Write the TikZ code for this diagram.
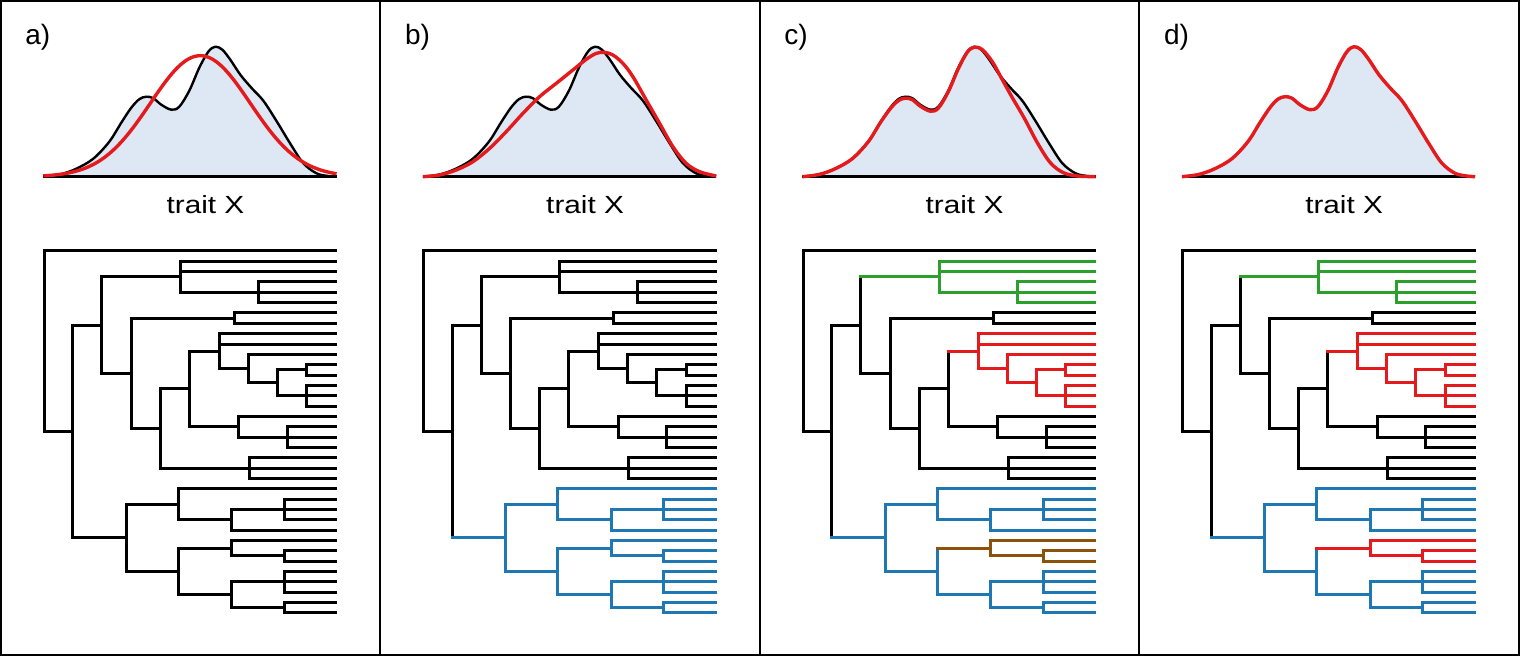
\documentclass[tikz,border=0pt]{standalone}
\usepackage{fontspec}
\setmainfont{Liberation Sans}
\usetikzlibrary{calc}
\definecolor{tgreen}{HTML}{2CA02C}
\definecolor{tred}{HTML}{E41A1C}
\definecolor{tblue}{HTML}{1F77B4}
\definecolor{tbrown}{HTML}{8C510A}
\definecolor{fillblue}{HTML}{DDE8F4}
\tikzset{
  branch/.style={line width=1.5pt, line cap=rect},
  panelframe/.style={line width=1pt, draw=black},
  densfill/.style={fill=fillblue},
  axisline/.style={line width=1.3pt, draw=black},
  kdeline/.style={line width=1.2pt, draw=black, line join=round},
  fitline/.style={line width=1.7pt, draw=tred, line join=round},
  panellabel/.style={anchor=base west, inner sep=0pt, font=\fontsize{14}{16}\selectfont},
  traitlabel/.style={anchor=base, inner sep=0pt, font=\fontsize{12.4}{14}\selectfont},
}
\newcommand\ty[1]{251+10.334*#1}
\newcommand\ed[4]{\draw[branch,#3] (#1) -- (#1 |- #2); \draw[branch,#4] (#1 |- #2) -- (#2);}
\newcommand\kdecurve{plot[smooth,tension=0.55] coordinates {(0,0) (17,2.3) (33,8) (50,18) (66,35) (78,54) (88,69) (96,77.5) (103,80) (110,78.5) (118,72) (128,67) (136,70) (146,86) (156,109) (165,125) (172,130) (179,127) (187,117) (197,102) (208,89) (220,76) (233,56) (247,33) (260,13.5) (273,3.5) (284,0.8) (293.3,0)}}
\newcommand\phylotree[6]{%
\begin{scope}[shift={(#1,0)}]
\foreach \i in {0,...,35}{\coordinate (#2t\i) at (335.8,{251+10.334*\i});}
\coordinate (#2root) at (44,\ty{8.7295});
\coordinate (#2A) at (72.7,\ty{17.459});
\coordinate (#2B) at (101.7,\ty{7.168});
\coordinate (#2C) at (180,\ty{2.5});
\coordinate (#2D) at (258.3,\ty{4});
\coordinate (#2E) at (131,\ty{11.836});
\coordinate (#2F) at (234,\ty{6.5});
\coordinate (#2G) at (160,\ty{17.172});
\coordinate (#2H) at (189.3,\ty{13.344});
\coordinate (#2I) at (219.3,\ty{9.6875});
\coordinate (#2J) at (248.3,\ty{11.375});
\coordinate (#2K) at (277.3,\ty{12.75});
\coordinate (#2L) at (306.7,\ty{11.5});
\coordinate (#2M) at (306.7,\ty{14});
\coordinate (#2N) at (238.7,\ty{17});
\coordinate (#2O) at (287.3,\ty{18});
\coordinate (#2P) at (249,\ty{21});
\coordinate (#2Q) at (126,\ty{27.75});
\coordinate (#2R) at (178.3,\ty{24.5});
\coordinate (#2S) at (231.7,\ty{26});
\coordinate (#2T) at (284,\ty{25});
\coordinate (#2U) at (178.3,\ty{31});
\coordinate (#2V) at (231.7,\ty{28.75});
\coordinate (#2W) at (284,\ty{29.5});
\coordinate (#2X) at (231.7,\ty{33.25});
\coordinate (#2Y) at (284,\ty{32});
\coordinate (#2Z) at (284,\ty{34.5});
\ed{#2root}{#2t0}{black}{black}
\ed{#2root}{#2A}{black}{black}
\ed{#2A}{#2B}{black}{black}
\ed{#2A}{#2Q}{black}{#5}
\ed{#2B}{#2C}{black}{#3}
\ed{#2B}{#2E}{black}{black}
\ed{#2C}{#2t1}{#3}{#3}
\ed{#2C}{#2t2}{#3}{#3}
\ed{#2C}{#2D}{#3}{#3}
\ed{#2D}{#2t3}{#3}{#3}
\ed{#2D}{#2t4}{#3}{#3}
\ed{#2D}{#2t5}{#3}{#3}
\ed{#2E}{#2F}{black}{black}
\ed{#2E}{#2G}{black}{black}
\ed{#2F}{#2t6}{black}{black}
\ed{#2F}{#2t7}{black}{black}
\ed{#2G}{#2H}{black}{black}
\ed{#2G}{#2P}{black}{black}
\ed{#2H}{#2I}{black}{#4}
\ed{#2H}{#2N}{black}{black}
\ed{#2I}{#2t8}{#4}{#4}
\ed{#2I}{#2t9}{#4}{#4}
\ed{#2I}{#2J}{#4}{#4}
\ed{#2J}{#2t10}{#4}{#4}
\ed{#2J}{#2K}{#4}{#4}
\ed{#2K}{#2L}{#4}{#4}
\ed{#2K}{#2M}{#4}{#4}
\ed{#2L}{#2t11}{#4}{#4}
\ed{#2L}{#2t12}{#4}{#4}
\ed{#2M}{#2t13}{#4}{#4}
\ed{#2M}{#2t14}{#4}{#4}
\ed{#2M}{#2t15}{#4}{#4}
\ed{#2N}{#2t16}{black}{black}
\ed{#2N}{#2O}{black}{black}
\ed{#2O}{#2t17}{black}{black}
\ed{#2O}{#2t18}{black}{black}
\ed{#2O}{#2t19}{black}{black}
\ed{#2P}{#2t20}{black}{black}
\ed{#2P}{#2t21}{black}{black}
\ed{#2P}{#2t22}{black}{black}
\ed{#2Q}{#2R}{#5}{#5}
\ed{#2Q}{#2U}{#5}{#5}
\ed{#2R}{#2t23}{#5}{#5}
\ed{#2R}{#2S}{#5}{#5}
\ed{#2S}{#2T}{#5}{#5}
\ed{#2S}{#2t27}{#5}{#5}
\ed{#2T}{#2t24}{#5}{#5}
\ed{#2T}{#2t25}{#5}{#5}
\ed{#2T}{#2t26}{#5}{#5}
\ed{#2U}{#2V}{#5}{#6}
\ed{#2U}{#2X}{#5}{#5}
\ed{#2V}{#2t28}{#6}{#6}
\ed{#2V}{#2W}{#6}{#6}
\ed{#2W}{#2t29}{#6}{#6}
\ed{#2W}{#2t30}{#6}{#6}
\ed{#2X}{#2Y}{#5}{#5}
\ed{#2X}{#2Z}{#5}{#5}
\ed{#2Y}{#2t31}{#5}{#5}
\ed{#2Y}{#2t32}{#5}{#5}
\ed{#2Y}{#2t33}{#5}{#5}
\ed{#2Z}{#2t34}{#5}{#5}
\ed{#2Z}{#2t35}{#5}{#5}
\end{scope}}
\begin{document}
\begin{tikzpicture}[x=0.5pt,y=-0.5pt]
\useasboundingbox (0,0) rectangle (1520,656);
% panel frames
\draw[panelframe] (1,1) rectangle (1519,655);
\draw[panelframe] (380,1) -- (380,655);
\draw[panelframe] (760,1) -- (760,655);
\draw[panelframe] (1139,1) -- (1139,655);
% labels
\node[panellabel] (la) at (25,44.3) {a)};
\node[panellabel] (lb) at (404.6,44.3) {b)};
\node[panellabel] (lc) at (784,44.3) {c)};
\node[panellabel] (ld) at (1163.6,44.3) {d)};
\node[traitlabel] (ta) at (205.5,213.3) {\scalebox{1.2}[1]{trait X}};
\node[traitlabel] (tb) at (585.1,213.3) {\scalebox{1.2}[1]{trait X}};
\node[traitlabel] (tc) at (964.5,213.3) {\scalebox{1.2}[1]{trait X}};
\node[traitlabel] (td) at (1344.1,213.3) {\scalebox{1.2}[1]{trait X}};
% panel a density
\begin{scope}[shift={(43.3,176.7)},yscale=-1]
\fill[densfill] \kdecurve -- cycle;
\draw[axisline] (0,0) -- (293.3,0);
\draw[kdeline] \kdecurve;
\draw[fitline] plot[domain=0:293.3,samples=150,smooth] (\x,{121*exp(-0.5*((\x-157)/50)^2)});
\end{scope}
% panel b density
\begin{scope}[shift={(422.9,176.7)},yscale=-1]
\fill[densfill] \kdecurve -- cycle;
\draw[axisline] (0,0) -- (293.3,0);
\draw[kdeline] \kdecurve;
\draw[fitline] plot[smooth,tension=0.55] coordinates {(0,0) (16.7,1.7) (33.3,6.7) (50,15) (66.7,28.3) (83.3,45) (100,63.3) (116.7,80) (133.3,93.3) (150,106.7) (163.3,117.3) (173.3,123.3) (181.7,124.3) (190,121.7) (200,113.3) (210,100) (223.3,76.7) (236.7,53.3) (250,30) (263.3,13.3) (276.7,5) (293.3,0.7)};
\end{scope}
% panel c density
\begin{scope}[shift={(802.3,176.7)},yscale=-1]
\fill[densfill] \kdecurve -- cycle;
\draw[axisline] (0,0) -- (293.3,0);
\draw[kdeline] \kdecurve;
\draw[fitline] plot[smooth,tension=0.55] coordinates {(0,0) (17,2.3) (33,8) (50,18) (66,35) (78,54) (88,68) (96,76) (103,78.5) (110,77) (118,70.5) (128,65.5) (136,68.5) (146,85) (156,108) (165,124.5) (172,129.5) (180,127) (190,115) (200,97) (210,79) (222,58.5) (235,34) (248,14) (261,4) (275,0.7) (293.3,0)};
\end{scope}
% panel d density
\begin{scope}[shift={(1181.9,176.7)},yscale=-1]
\fill[densfill] \kdecurve -- cycle;
\draw[axisline] (0,0) -- (293.3,0);
\draw[fitline] \kdecurve;
\end{scope}
% trees
\phylotree{0}{a}{black}{black}{black}{black}
\phylotree{379.6}{b}{black}{black}{tblue}{tblue}
\phylotree{759}{c}{tgreen}{tred}{tblue}{tbrown}
\phylotree{1138.6}{d}{tgreen}{tred}{tblue}{tred}
\end{tikzpicture}
\end{document}
